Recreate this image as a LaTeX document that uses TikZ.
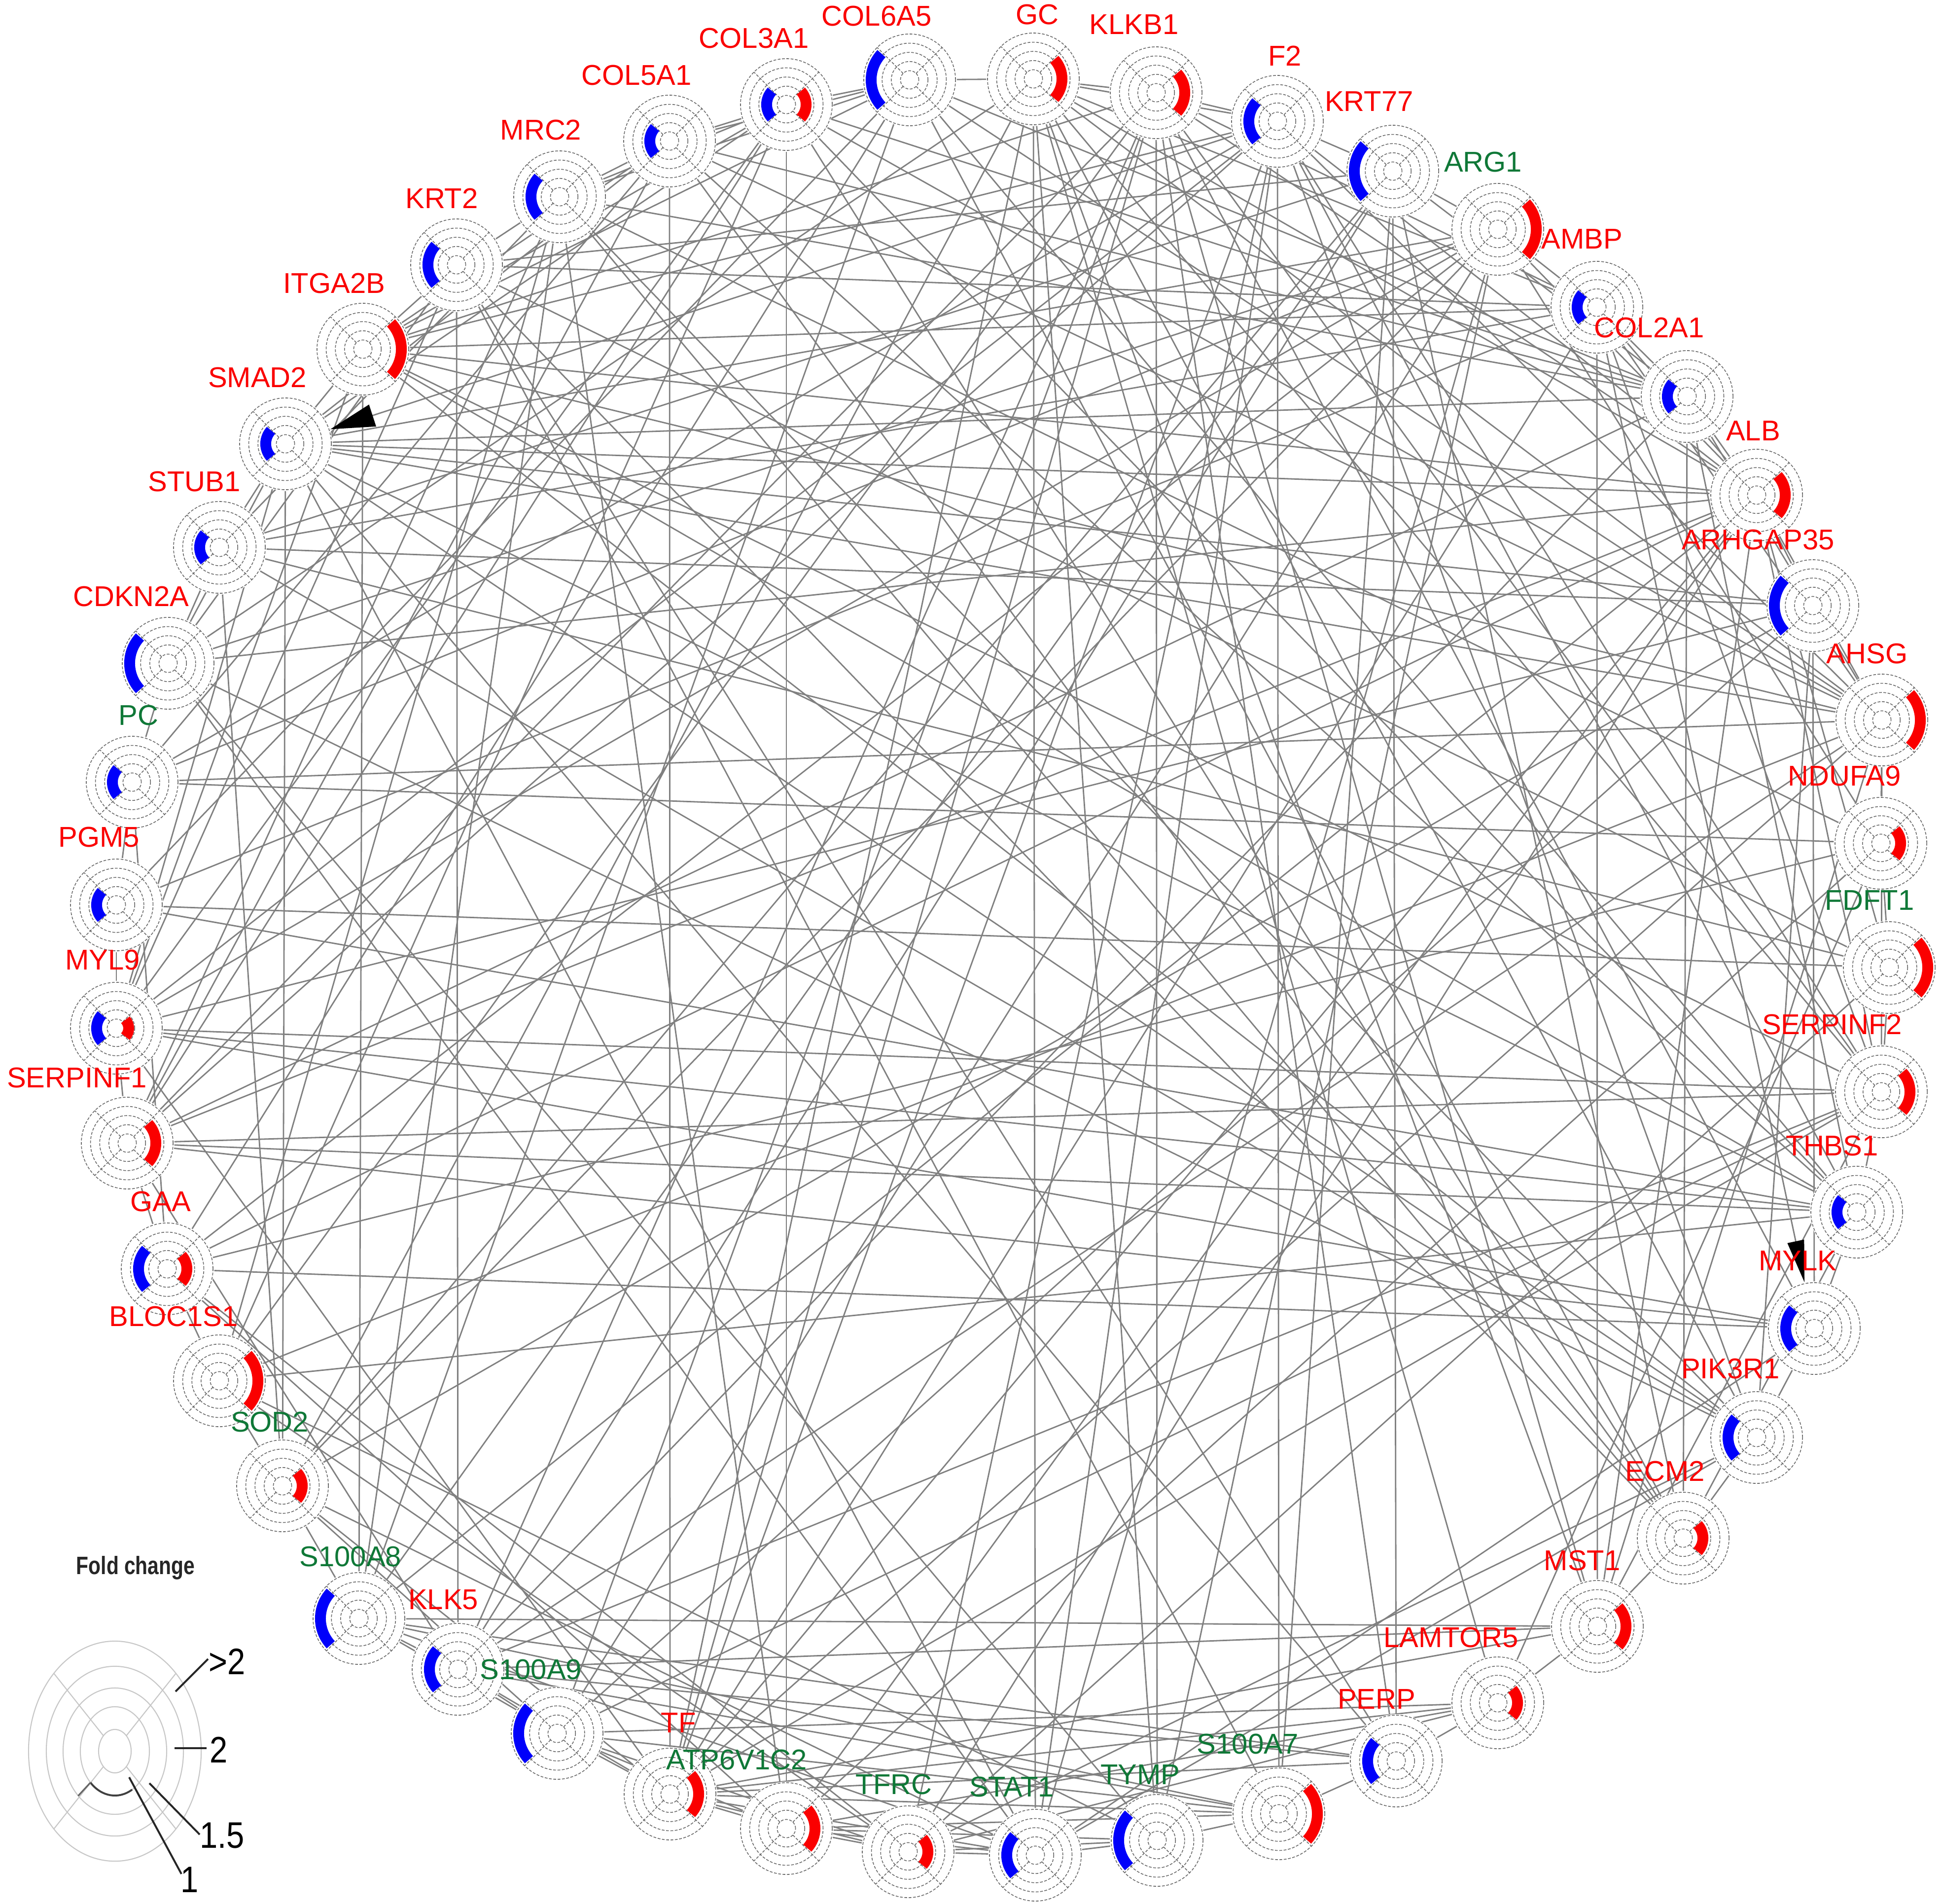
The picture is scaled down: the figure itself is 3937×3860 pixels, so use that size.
\documentclass[tikz,border=0pt]{standalone}
\usepackage{fontspec}
\setmainfont{Liberation Sans}
\usetikzlibrary{arrows.meta}
\definecolor{labr}{RGB}{250,0,0}
\definecolor{labg}{RGB}{15,120,55}
\definecolor{edgec}{RGB}{128,128,128}
\definecolor{ringc}{RGB}{105,105,105}
\definecolor{arcb}{RGB}{0,0,250}
\definecolor{arcr}{RGB}{250,0,0}
\begin{document}
\begin{tikzpicture}[x=0.01cm,y=-0.01cm,
  gn/.style={circle,minimum size=1.9cm,inner sep=0pt,draw=none},
  edge/.style={draw=edgec,line width=0.8pt},
  ring/.style={draw=ringc,line width=0.45pt,dash pattern=on 1.6pt off 0.9pt},
  barc/.style={draw=arcb,line width=0.22cm},
  rarc/.style={draw=arcr,line width=0.22cm},
  lab/.style={font=\fontsize{16.5}{18}\selectfont,inner sep=0pt},
  lring/.style={draw=black!22,line width=0.6pt},
  lline/.style={draw=black!85,line width=1.1pt},
  lnum/.style={font=\fontsize{18.5}{20}\selectfont,inner sep=0pt,anchor=west}]
\useasboundingbox (0,0) rectangle (3937,3860);
\def\genes{COL6A5/1845/162/1778/33/labr/4/0,
GC/2096/160/2104/30/labr/0/3,
KLKB1/2345/188/2300/50/labr/0/3,
F2/2591/246/2606/113/labr/3/0,
KRT77/2825/347/2777/206/labr/4/0,
ARG1/3038/465/3008/329/labg/0/4,
AMBP/3239/623/3209/485/labr/2/0,
COL2A1/3422/804/3345/665/labr/2/0,
ALB/3563/1004/3556/874/labr/0/3,
ARHGAP35/3677/1228/3566/1095/labr/4/0,
AHSG/3817/1460/3787/1326/labr/0/4,
NDUFA9/3815/1710/3741/1574/labr/0/2,
FDFT1/3832/1962/3792/1826/labg/0/4,
SERPINF2/3816/2214/3716/2077/labr/0/3,
THBS1/3766/2458/3716/2323/labr/2/0,
MYLK/3680/2694/3646/2556/labr/3/0,
PIK3R1/3563/2915/3510/2775/labr/3/0,
ECM2/3414/3119/3377/2983/labr/0/2,
MST1/3240/3298/3209/3164/labr/0/3,
LAMTOR5/3038/3453/2943/3320/labr/0/2,
PERP/2832/3571/2792/3445/labr/3/0,
S100A7/2594/3678/2531/3536/labg/0/4,
TYMP/2347/3732/2313/3598/labg/4/0,
STAT1/2100/3762/2052/3623/labg/3/0,
TFRC/1842/3755/1813/3618/labg/0/2,
ATP6V1C2/1595/3708/1494/3568/labg/0/3,
TF/1359/3638/1376/3493/labr/0/3,
S100A9/1130/3515/1077/3385/labg/4/0,
KLK5/929/3385/899/3244/labr/3/0,
S100A8/728/3282/711/3156/labg/4/0,
SOD2/573/3013/547/2883/labg/0/2,
BLOC1S1/445/2800/352/2669/labr/0/4,
GAA/339/2573/326/2436/labr/3/2,
SERPINF1/258/2318/156/2185/labr/0/3,
MYL9/236/2085/208/1946/labr/2/1,
PGM5/236/1835/201/1697/labr/2/0,
PC/268/1586/281/1451/labg/2/0,
CDKN2A/341/1345/266/1210/labr/4/0,
STUB1/445/1110/394/977/labr/2/0,
SMAD2/579/900/522/766/labr/2/0,
ITGA2B/736/708/678/575/labr/0/4,
KRT2/926/537/896/402/labr/3/0,
MRC2/1135/399/1097/264/labr/3/0,
COL5A1/1358/286/1291/153/labr/2/0,
COL3A1/1595/212/1529/78/labr/2/2}
% node places
\foreach \n/\x/\y/\lx/\ly/\c/\b/\r in \genes {\node[gn] (\n) at (\x,\y) {};}
% connectors
\foreach \a/\b in {COL6A5/GC,COL6A5/COL3A1,COL6A5/COL5A1,COL6A5/COL2A1,COL6A5/AHSG,COL6A5/ITGA2B,COL6A5/THBS1,COL6A5/ECM2,COL6A5/MRC2,COL6A5/GAA,COL6A5/PGM5,COL6A5/S100A8,
GC/KLKB1,GC/F2,GC/ALB,GC/AHSG,GC/AMBP,GC/TF,GC/SERPINF2,GC/MST1,GC/TYMP,GC/STAT1,GC/CDKN2A,GC/PIK3R1,GC/LAMTOR5,GC/SOD2,
KLKB1/F2,KLKB1/ALB,KLKB1/AMBP,KLKB1/TYMP,KLKB1/SERPINF2,KLKB1/MST1,KLKB1/KLK5,KLKB1/ITGA2B,KLKB1/SERPINF1,KLKB1/PERP,KLKB1/S100A9,KLKB1/TF,KLKB1/MYLK,KLKB1/BLOC1S1,
F2/KRT77,F2/ALB,F2/AHSG,F2/THBS1,F2/ITGA2B,F2/SERPINF2,F2/TF,F2/PIK3R1,F2/SERPINF1,F2/PC,F2/STAT1,F2/S100A7,F2/MYL9,F2/TFRC,
KRT77/ARG1,KRT77/KRT2,KRT77/S100A7,KRT77/S100A8,KRT77/PERP,KRT77/KLK5,KRT77/ECM2,KRT77/COL2A1,KRT77/STUB1,KRT77/SOD2,
ARG1/AMBP,ARG1/ALB,ARG1/SOD2,ARG1/STAT1,ARG1/TYMP,ARG1/S100A9,ARG1/CDKN2A,ARG1/PC,ARG1/MYL9,ARG1/GAA,ARG1/SMAD2,ARG1/NDUFA9,
AMBP/COL2A1,AMBP/ALB,AMBP/AHSG,AMBP/MST1,AMBP/TF,AMBP/SERPINF2,AMBP/ITGA2B,AMBP/PGM5,AMBP/STUB1,AMBP/KRT2,
COL2A1/ALB,COL2A1/ARHGAP35,COL2A1/COL3A1,COL2A1/COL5A1,COL2A1/SMAD2,COL2A1/ECM2,COL2A1/THBS1,COL2A1/MRC2,COL2A1/SERPINF1,COL2A1/KLK5,
ALB/ARHGAP35,ALB/AHSG,ALB/TF,ALB/SERPINF2,ALB/SERPINF1,ALB/SMAD2,ALB/ITGA2B,ALB/CDKN2A,ALB/S100A8,ALB/GAA,ALB/TFRC,ALB/MST1,ALB/FDFT1,ALB/ATP6V1C2,
ARHGAP35/AHSG,ARHGAP35/SMAD2,ARHGAP35/PIK3R1,ARHGAP35/MYLK,ARHGAP35/STUB1,ARHGAP35/MYL9,ARHGAP35/S100A9,ARHGAP35/SOD2,
AHSG/NDUFA9,AHSG/SERPINF2,AHSG/TF,AHSG/MST1,AHSG/SMAD2,AHSG/KLK5,AHSG/ITGA2B,AHSG/PC,AHSG/COL3A1,AHSG/COL5A1,AHSG/BLOC1S1,
NDUFA9/FDFT1,NDUFA9/PC,NDUFA9/LAMTOR5,NDUFA9/ATP6V1C2,NDUFA9/GAA,NDUFA9/MRC2,
FDFT1/SERPINF2,FDFT1/PGM5,FDFT1/TFRC,FDFT1/STUB1,FDFT1/KRT2,
SERPINF2/THBS1,SERPINF2/SERPINF1,SERPINF2/TF,SERPINF2/MST1,SERPINF2/MYL9,SERPINF2/KLK5,SERPINF2/ITGA2B,SERPINF2/S100A9,
THBS1/MYLK,THBS1/SERPINF1,THBS1/ITGA2B,THBS1/SMAD2,THBS1/ECM2,THBS1/COL3A1,THBS1/COL5A1,THBS1/PGM5,THBS1/BLOC1S1,THBS1/MYL9,
MYLK/PIK3R1,MYLK/MYL9,MYLK/SERPINF1,MYLK/GAA,MYLK/STAT1,
PIK3R1/ECM2,PIK3R1/SMAD2,PIK3R1/STAT1,PIK3R1/CDKN2A,PIK3R1/ITGA2B,PIK3R1/TFRC,PIK3R1/STUB1,PIK3R1/MRC2,
ECM2/MST1,ECM2/COL3A1,ECM2/COL5A1,ECM2/KRT2,ECM2/MRC2,
MST1/LAMTOR5,MST1/TF,MST1/KLK5,MST1/S100A8,
LAMTOR5/PERP,LAMTOR5/TFRC,LAMTOR5/ATP6V1C2,LAMTOR5/S100A9,LAMTOR5/TF,
PERP/S100A7,PERP/S100A8,PERP/KLK5,PERP/KRT2,PERP/SMAD2,PERP/TF,
S100A7/TYMP,S100A7/S100A8,S100A7/S100A9,S100A7/KRT2,S100A7/KLK5,S100A7/ATP6V1C2,S100A7/TF,
TYMP/STAT1,TYMP/TFRC,TYMP/CDKN2A,TYMP/BLOC1S1,TYMP/ATP6V1C2,
STAT1/TFRC,STAT1/ATP6V1C2,STAT1/SMAD2,STAT1/CDKN2A,STAT1/SOD2,STAT1/S100A8,STAT1/TF,
TFRC/ATP6V1C2,TFRC/TF,TFRC/GAA,TFRC/BLOC1S1,TFRC/S100A9,
ATP6V1C2/TF,ATP6V1C2/GAA,ATP6V1C2/MRC2,ATP6V1C2/COL3A1,ATP6V1C2/S100A9,
TF/S100A9,TF/SOD2,TF/COL5A1,TF/MYL9,TF/KLK5,
S100A9/KLK5,S100A9/S100A8,S100A9/SOD2,
KLK5/S100A8,KLK5/KRT2,KLK5/SERPINF1,
S100A8/SOD2,S100A8/ITGA2B,S100A8/MRC2,
SOD2/BLOC1S1,SOD2/SMAD2,SOD2/STUB1,
BLOC1S1/GAA,BLOC1S1/MRC2,BLOC1S1/COL3A1,
GAA/SERPINF1,GAA/PC,
SERPINF1/MYL9,SERPINF1/COL3A1,SERPINF1/COL5A1,SERPINF1/MRC2,
MYL9/PGM5,MYL9/SMAD2,MYL9/ITGA2B,MYL9/COL3A1,MYL9/KRT2,
PGM5/PC,PC/CDKN2A,PC/COL5A1,
CDKN2A/STUB1,CDKN2A/SMAD2,CDKN2A/KRT2,
STUB1/SMAD2,STUB1/MRC2,
SMAD2/ITGA2B,SMAD2/COL3A1,SMAD2/COL5A1,
ITGA2B/KRT2,ITGA2B/COL3A1,ITGA2B/COL5A1,
KRT2/MRC2,MRC2/COL5A1,MRC2/COL3A1,COL5A1/COL3A1}
  {\draw[edge] (\a) -- (\b);}
\draw[edge,-{Triangle[length=0.9cm,width=0.46cm,color=black]}] (F2) -- (SMAD2);
\draw[edge,-{Triangle[length=0.85cm,width=0.34cm,color=black]}] (AMBP) -- (MYLK);
% node glyphs
\foreach \n/\x/\y/\lx/\ly/\c/\b/\r in \genes {
  \fill[white] (\x,\y) circle[radius=0.95cm];
  \foreach \k in {1,...,5} {\draw[ring] (\x,\y) circle[radius=\k*0.186cm];}
  \foreach \t in {45,135,225,315} {\draw[ring] (\x,\y) ++(\t:0.186cm) -- ++(\t:0.744cm);}
  \ifnum\b>0
    \pgfmathsetmacro\rb{{0,0.25,0.40,0.58,0.78}[\b]}
    \draw[barc] (\x,\y) ++(137:\rb cm) arc[start angle=137,end angle=223,radius=\rb cm];
  \fi
  \ifnum\r>0
    \pgfmathsetmacro\rr{{0,0.25,0.40,0.58,0.78}[\r]}
    \draw[rarc] (\x,\y) ++(-43:\rr cm) arc[start angle=-43,end angle=43,radius=\rr cm];
  \fi
}
% labels
\foreach \n/\x/\y/\lx/\ly/\c/\b/\r in \genes {\node[lab,text=\c] (L\n) at (\lx,\ly) {\n};}
% legend
\node[font=\bfseries\fontsize{11.6}{13}\selectfont,text=black!85] (fc) at (275,3179) {\scalebox{1}[1.25]{Fold change}};
\coordinate (lc) at (233,3551);
\foreach \rx/\ry in {0.33/0.44,0.70/0.90,1.05/1.28,1.39/1.72,1.75/2.23}
  {\draw[lring] (lc) ellipse[x radius=\rx cm,y radius=\ry cm];}
\draw[lring] (256,3520) -- (357,3393);
\draw[lring] (210,3520) -- (109,3393);
\draw[lring] (210,3582) -- (109,3709);
\draw[lring] (256,3582) -- (357,3709);
\draw[draw=black!75,line width=1.1pt] (lc) ++(225:0.70cm and 0.90cm) arc[start angle=225,end angle=300,x radius=0.70cm,y radius=0.90cm];
\draw[draw=black!60,line width=0.9pt] (lc) ++(225:0.70cm and 0.90cm) -- ++(-0.25cm,-0.27cm);
\node[lnum] (g2) at (423,3369) {\scalebox{1}[1.15]{>2}};
\node[lnum] (e2) at (425,3548) {\scalebox{1}[1.15]{2}};
\node[lnum] (e15) at (405,3722) {\scalebox{1}[1.15]{1.5}};
\node[lnum] (e1) at (366,3812) {\scalebox{1}[1.15]{1}};
\coordinate (p2) at (356,3430);   \coordinate (t2) at (422,3364);
\coordinate (q2) at (354,3545);   \coordinate (u2) at (419,3545);
\coordinate (p15) at (303,3616);  \coordinate (t15) at (405,3720);
\coordinate (p1) at (262,3604);   \coordinate (t1) at (368,3800);
\draw[lline] (p2) -- (t2);
\draw[lline] (q2) -- (u2);
\draw[lline] (p15) -- (t15);
\draw[lline] (p1) -- (t1);
\end{tikzpicture}
\end{document}
